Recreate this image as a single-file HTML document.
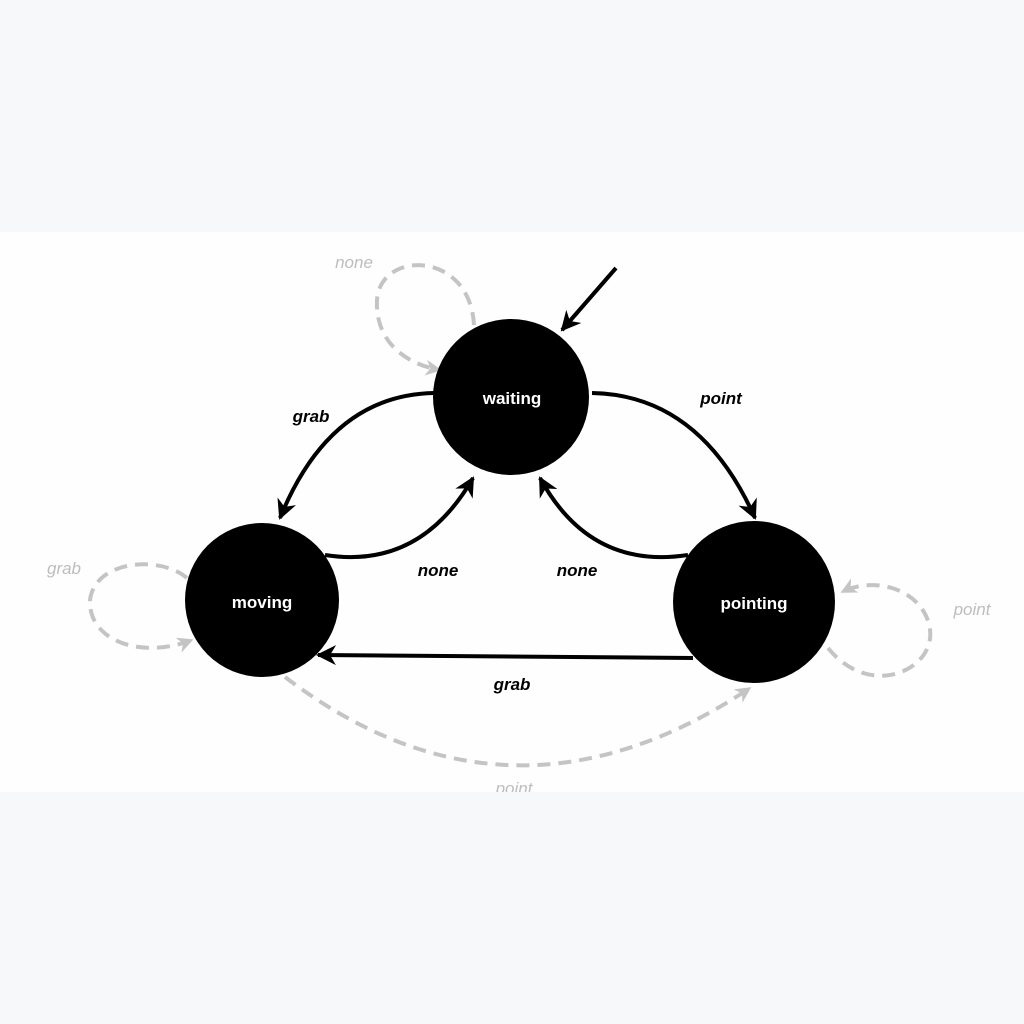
<!DOCTYPE html>
<html><head><style>
html,body{margin:0;padding:0;background:#f7f8fa;}
svg{display:block;}
text{font-family:"Liberation Sans",sans-serif;}
</style></head><body>
<svg width="1024" height="1024" viewBox="0 0 1024 1024" xmlns="http://www.w3.org/2000/svg">
<defs>
<marker id="ab" viewBox="0 0 10 10" refX="9" refY="5" markerWidth="5" markerHeight="5" orient="auto" markerUnits="strokeWidth">
<path d="M0,0 L10,5 L0,10 L3,5z" fill="#000"/></marker>
<marker id="ag" viewBox="0 0 10 10" refX="9" refY="5" markerWidth="4" markerHeight="4" orient="auto" markerUnits="strokeWidth">
<path d="M0,0 L10,5 L0,10 L3,5z" fill="#c4c4c4"/></marker>
</defs>
<rect x="0" y="0" width="1024" height="1024" fill="#f7f8fa"/>
<rect x="0" y="232" width="1024" height="560" fill="#fefefe"/>

<g fill="none" stroke="#c4c4c4" stroke-width="4" stroke-dasharray="13,8" marker-end="url(#ag)">
<path d="M474,325 C470,250 380,250 377,300 C375,345 410,365 440,370"/>
<path d="M187,578 C160,555 95,560 90,600 C88,640 140,660 192,640"/>
<path d="M828,648 C870,700 935,670 930,630 C925,590 875,575 842,592"/>
<path d="M285,677 Q510,848 750,688"/>
</g>

<g fill="none" stroke="#000" stroke-width="4" marker-end="url(#ab)">
<path d="M616,268 L562,330"/>
<path d="M434,393 Q330,395 280,518"/>
<path d="M592,393 Q700,395 755,518"/>
<path d="M325,555 Q420,570 473,478"/>
<path d="M688,555 Q590,570 540,478"/>
<path d="M693,658 L318,655"/>
</g>

<circle cx="511" cy="397" r="78" fill="#000"/>
<circle cx="262" cy="600" r="77" fill="#000"/>
<circle cx="754" cy="602" r="81" fill="#000"/>

<g fill="#fff" font-weight="bold" font-size="17" text-anchor="middle">
<text x="512" y="404">waiting</text>
<text x="262" y="608">moving</text>
<text x="754" y="609">pointing</text>
</g>
<g fill="#000" font-weight="bold" font-style="italic" font-size="17" text-anchor="middle">
<text x="311" y="422">grab</text>
<text x="721" y="404">point</text>
<text x="438" y="576">none</text>
<text x="577" y="576">none</text>
<text x="512" y="690">grab</text>
</g>
<g fill="#bdbdbd" font-style="italic" font-size="17" text-anchor="middle">
<text x="354" y="268">none</text>
<text x="64" y="574">grab</text>
<text x="972" y="615">point</text>
<text x="514" y="794">point</text>
</g>
<rect x="0" y="792" width="1024" height="232" fill="#f7f8fa"/>
</svg>
</body></html>
